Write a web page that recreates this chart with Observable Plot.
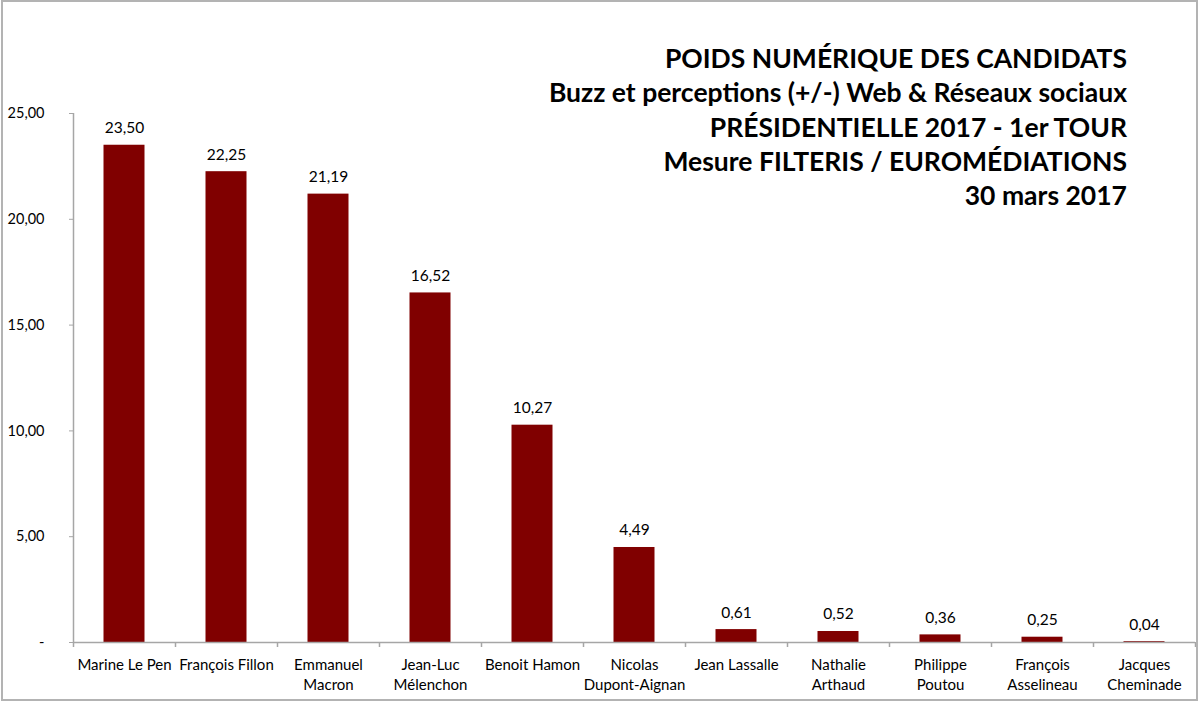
<!DOCTYPE html>
<html><head><meta charset="utf-8">
<script src="https://cdn.jsdelivr.net/npm/d3@7"></script>
<script src="https://cdn.jsdelivr.net/npm/@observablehq/plot@0.6"></script>
<style>
body{margin:0;background:#fff;}
#wrap{position:relative;width:1200px;height:703px;overflow:hidden;font-family:Lato,sans-serif;background:#fff;}
#border{position:absolute;left:1px;top:0;width:1197px;height:701px;border:2px solid #b3b3b3;box-sizing:border-box;pointer-events:none;}
#title{position:absolute;right:73px;top:41px;text-align:right;font-weight:bold;font-size:26.5px;line-height:34.3px;color:#000;white-space:nowrap;}
</style></head>
<body>
<div id="wrap">
  <div id="chart"></div>
  <div id="title"></div>
  <div id="border"></div>
</div>
<script>
const titleLines = [
  "POIDS NUMÉRIQUE DES CANDIDATS",
  "Buzz et perceptions (+/-) Web & Réseaux sociaux",
  "PRÉSIDENTIELLE 2017 - 1er TOUR",
  "Mesure FILTERIS / EUROMÉDIATIONS",
  "30 mars 2017"
];
const candidates = [
  "Marine Le Pen", "François Fillon", "Emmanuel\nMacron", "Jean-Luc\nMélenchon",
  "Benoit Hamon", "Nicolas\nDupont-Aignan", "Jean Lassalle", "Nathalie\nArthaud",
  "Philippe\nPoutou", "François\nAsselineau", "Jacques\nCheminade"
];
const scores = [23.50, 22.25, 21.19, 16.52, 10.27, 4.49, 0.61, 0.52, 0.36, 0.25, 0.04];
const yTicks = [0, 5, 10, 15, 20, 25];

document.getElementById("title").innerHTML = titleLines.map(t => `<div>${t.replace(/&/g,"&amp;")}</div>`).join("");

const W = 1200, H = 703, mL = 73, mR = 5, mT = 113, mB = 61;
const step = (W - mL - mR) / candidates.length;
const data = candidates.map((c, i) => ({name: c, value: scores[i]}));
const fmt = v => v.toFixed(2).replace(".", ",");
const axisColor = "#a6a6a6";

const chart = Plot.plot({
  width: W, height: H,
  marginLeft: mL, marginRight: mR, marginTop: mT, marginBottom: mB,
  style: {fontFamily: "Lato, sans-serif", fontSize: "15px", color: "#000", background: "transparent", overflow: "visible"},
  x: {domain: candidates, padding: 0, round: false, label: null},
  y: {domain: [0, 25], label: null},
  marks: [
    Plot.barY(data, {x: "name", y: "value", fill: "#800000", insetLeft: 30.5, insetRight: 30.5}),
    Plot.text(data, {x: "name", y: "value", text: d => fmt(d.value), dy: -17, fontSize: 15.5, fill: "#000"}),
    Plot.ruleY([0], {stroke: axisColor, strokeWidth: 1.5}),
    Plot.ruleX([candidates[0]], {x: d => d, y1: 0, y2: 25, dx: -step / 2, stroke: axisColor, strokeWidth: 1.5}),
    Plot.ruleX(candidates, {x: d => d, y1: 0, y2: 0, insetBottom: -5, dx: -step / 2, stroke: axisColor, strokeWidth: 1.5}),
    Plot.ruleX([candidates[candidates.length - 1]], {x: d => d, y1: 0, y2: 0, insetBottom: -5, dx: step / 2, stroke: axisColor, strokeWidth: 1.5}),
    Plot.axisY({ticks: yTicks, tickSize: 4, tickPadding: 25, tickFormat: d => d === 0 ? "-" : fmt(d), stroke: axisColor, fill: "#000", fontSize: 14.5, label: null}),
    Plot.axisX({tickSize: 0, tickPadding: 13, fontSize: 15, lineHeight: 1.33, fill: "#000", label: null})
  ]
});
document.getElementById("chart").appendChild(chart);
</script>
</body></html>
